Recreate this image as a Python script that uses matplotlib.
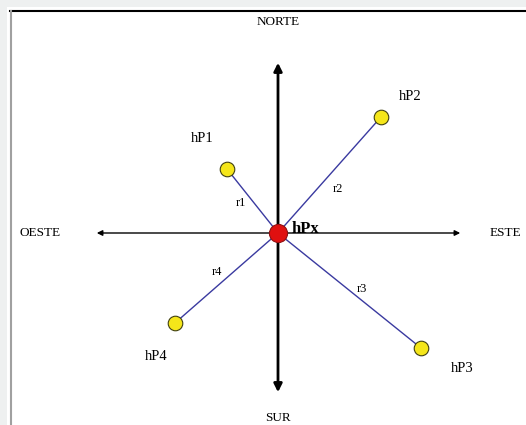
import matplotlib
matplotlib.use('Agg')
import matplotlib.pyplot as plt
from matplotlib.patches import FancyArrowPatch, Rectangle
from matplotlib.lines import Line2D

# DATA ######################################################################
# positions of the stations, (east, north) in pixels relative to hPx
names = ['hP1', 'hP2', 'hP3', 'hP4']
east = [-51, 103, 143, -103]
north = [64, 116, -115, -90]
# where each station name sits
name_east = [-76, 132, 184, -122]
name_north = [95, 137, -136, -124]
# distance labels r1..r4
dist_labels = ['r1', 'r2', 'r3', 'r4']
dist_east = [-37, 60, 84, -61]
dist_north = [30, 44, -56, -39]
# compass labels
compass = ['NORTE', 'SUR', 'OESTE', 'ESTE']
compass_east = [0, 0, -238, 227]
compass_north = [211, -185, 0, 0]

W, H = 526, 425
fig = plt.figure(figsize=(W / 100, H / 100), dpi=100, facecolor='#eef0f0')

# frame round the drawing (figure pixels)
fig.add_artist(Rectangle((7 / W, 0), 1 - 7 / W, 1 - 7 / H,
                         transform=fig.transFigure, facecolor='white',
                         edgecolor='none', zorder=-2))
fig.add_artist(Line2D([10 / W, 1], [1 - 11 / H, 1 - 11 / H],
                      transform=fig.transFigure, color='black', lw=1.5,
                      zorder=-1))
fig.add_artist(Line2D([10.5 / W, 10.5 / W], [0, 1 - 11 / H],
                      transform=fig.transFigure, color='#a0a0a0', lw=1.5,
                      zorder=-1))

ax = fig.add_axes([0, 0, 1, 1])
ax.set_zorder(2)
ax.set_xlim(-278, W - 278)
ax.set_ylim(-(H - 233), 233)
ax.axis('off')
ax.patch.set_alpha(0)

serif = ['Liberation Serif', 'DejaVu Serif']

# compass axes
ax.add_patch(FancyArrowPatch((0, -162), (0, 173), arrowstyle='<|-|>',
                             mutation_scale=12, lw=2, color='black'))
ax.add_patch(FancyArrowPatch((-184, 0), (185, 0), arrowstyle='<|-|>',
                             mutation_scale=8, lw=1, color='black'))

# lines from hPx to each station
for e, n in zip(east, north):
    ax.plot([0, e], [0, n], color='#3a3aa0', lw=1, zorder=3)

ax.scatter(east, north, s=110, color='#f5e61a', edgecolor='#404010',
           linewidth=0.8, zorder=4)
ax.scatter([0], [0], s=170, color='#e01010', edgecolor='#901010',
           linewidth=0.8, zorder=5)

for t, e, n in zip(names, name_east, name_north):
    ax.text(e, n, t, ha='center', va='center', fontsize=10.5, family=serif)
for t, e, n in zip(dist_labels, dist_east, dist_north):
    ax.text(e, n, t, ha='center', va='center', fontsize=9, family=serif)
for t, e, n in zip(compass, compass_east, compass_north):
    ax.text(e, n, t, ha='center', va='center', fontsize=9.5, family=serif)

ax.text(14, 4, 'hPx', ha='left', va='center', fontsize=12,
        fontweight='bold', family=serif)

fig.savefig('out.png', dpi=100, facecolor=fig.get_facecolor())
